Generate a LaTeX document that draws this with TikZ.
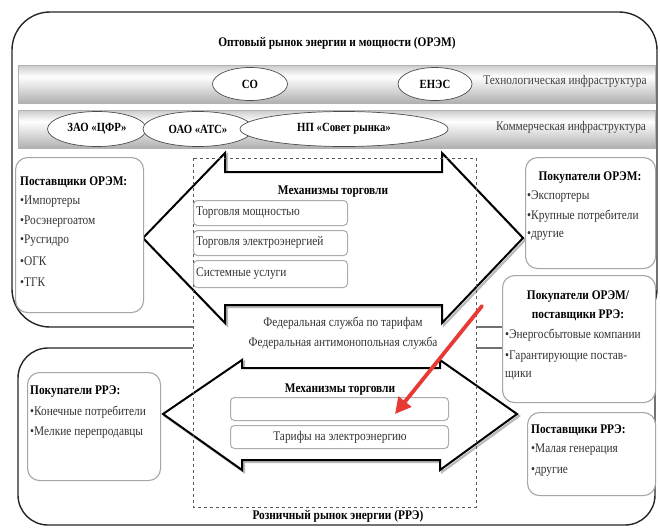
\documentclass[tikz,border=0pt]{standalone}
\usepackage{fontspec}
\setmainfont[FakeStretch=0.86]{Liberation Serif}
\usetikzlibrary{arrows.meta,shapes.geometric}
\pgfdeclareverticalshading{cyl}{100bp}{color(0bp)=(black!60); color(15bp)=(black!40); color(35bp)=(black!22); color(60bp)=(white); color(80bp)=(black!28); color(100bp)=(black!60)}
\definecolor{redarr}{RGB}{232,58,52}
\begin{document}
\begin{tikzpicture}[x=1pt,y=-1pt,
  frame/.style={draw=black!85, line width=1.4pt},
  band/.style={draw=gray!60, line width=0.6pt, shading=cyl},
  ell/.style={ellipse, draw=black!70, fill=white, line width=0.7pt, inner sep=0pt, font=\bfseries\fontsize{12.5}{14}\selectfont},
  bandtxt/.style={font=\fontsize{13.2}{15}\selectfont, text=black!75},
  sidebox/.style={draw=gray!70, line width=1.1pt, fill=white, rounded corners=12pt, anchor=north west, inner sep=0pt},
  mechbox/.style={draw=gray!65, line width=1pt, fill=white, rounded corners=4pt, anchor=north west, inner sep=0pt},
  ttl/.style={font=\bfseries\fontsize{13.2}{15}\selectfont, inner sep=0pt},
  itm/.style={font=\fontsize{13.2}{15}\selectfont, text=black!80, inner sep=0pt, anchor=west},
  bigarrow/.style={draw=black, line width=2pt, fill=white, line join=miter},
  arrshadow/.style={draw=gray!55, line width=2.2pt, line join=miter},
  dashbox/.style={draw=gray!70!black, dashed, line width=0.8pt},
  redline/.style={draw=redarr, line width=3.8pt, line cap=round, -{Triangle[length=16pt,width=16pt]}}
]
\useasboundingbox (0,0) rectangle (660,528);
\fill[white] (0,0) rectangle (660,528);

% outer frames
\draw[frame, rounded corners=38pt] (12,12) rectangle (657,327);
\draw[frame, rounded corners=30pt] (18,348) rectangle (655,525);

\node[ttl] (orem) at (337,43) {Оптовый рынок энергии и мощности (ОРЭМ)};

% bands
\path[band] (18,65) rectangle (655,103);
\path[band] (18,110) rectangle (655,148);
\node[ell, minimum width=75pt, minimum height=33pt] (so) at (250,84) {СО};
\node[ell, minimum width=74pt, minimum height=33pt] (enes) at (435,84) {ЕНЭС};
\node[bandtxt] (tech) at (565,81) {Технологическая инфраструктура};
\node[ell, minimum width=99pt, minimum height=35pt] (cfr) at (97,129) {ЗАО «ЦФР»};
\node[ell, minimum width=110pt, minimum height=35pt] (ats) at (198,129) {ОАО «АТС»};
\node[ell, minimum width=208pt, minimum height=35pt] (np) at (344,129) {НП «Совет рынка»};
\node[bandtxt] (comm) at (571,127) {Коммерческая инфраструктура};

% central dashed area (white background)
\fill[white] (193,158) rectangle (476,507);

% upper double arrow
\draw[arrshadow, shift={(2,2)}] (143,238) -- (225,153) -- (225,172) -- (442,172) -- (442,153) -- (523,238) -- (442,323) -- (442,305) -- (225,305) -- (225,323) -- cycle;
\draw[bigarrow] (143,238) -- (225,153) -- (225,172) -- (442,172) -- (442,153) -- (523,238) -- (442,323) -- (442,305) -- (225,305) -- (225,323) -- cycle;

% lower double arrow
\draw[arrshadow, shift={(2,2)}] (163,414) -- (242,360) -- (242,368) -- (440,368) -- (440,360) -- (517,414) -- (440,470) -- (440,460) -- (242,460) -- (242,470) -- cycle;
\draw[bigarrow] (163,414) -- (242,360) -- (242,368) -- (440,368) -- (440,360) -- (517,414) -- (440,470) -- (440,460) -- (242,460) -- (242,470) -- cycle;

% dashed outline
\draw[dashbox] (193,158) rectangle (476,507);

% upper mechanisms
\node[ttl] (mech1) at (333,192) {Механизмы торговли};
\node[mechbox, minimum width=154pt, minimum height=25pt] (m1) at (193,200) {};
\node[mechbox, minimum width=154pt, minimum height=25pt] (m2) at (193,230) {};
\node[mechbox, minimum width=154pt, minimum height=27pt] (m3) at (193,260) {};
\node[itm] (m1t) at (196,212.5) {Торговля мощностью};
\node[itm] (m2t) at (196,242.5) {Торговля электроэнергией};
\node[itm] (m3t) at (196,273.5) {Системные услуги};

\node[itm, anchor=center] (fst) at (343,323) {Федеральная служба по тарифам};
\node[itm, anchor=center] (fas) at (343,343) {Федеральная антимонопольная служба};

% lower mechanisms
\node[ttl] (mech2) at (340,390) {Механизмы торговли};
\node[mechbox, minimum width=218pt, minimum height=23pt] (r1) at (230,397) {};
\node[mechbox, minimum width=218pt, minimum height=23pt] (r2) at (230,425) {};
\node[itm, anchor=center] (r2t) at (340,437) {Тарифы на электроэнергию};

\node[ttl] (rre) at (338,516) {Розничный рынок энергии (РРЭ)};

% side boxes
\node[sidebox, minimum width=128pt, minimum height=155pt] (sup) at (15,157) {};
\node[ttl, anchor=west] (supt) at (20,182) {Поставщики ОРЭМ:};
\node[itm] (s1) at (20,202) {•Импортеры};
\node[itm] (s2) at (20,222) {•Росэнергоатом};
\node[itm] (s3) at (20,241) {•Русгидро};
\node[itm] (s4) at (20,261) {•ОГК};
\node[itm] (s5) at (20,282) {•ТГК};

\node[sidebox, minimum width=130pt, minimum height=111pt] (buy) at (525,157) {};
\node[ttl] (buyt) at (590,178) {Покупатели ОРЭМ:};
\node[itm] (b1) at (527,197) {•Экспортеры};
\node[itm] (b2) at (527,216) {•Крупные потребители};
\node[itm] (b3) at (527,236) {•другие};

\node[sidebox, minimum width=153pt, minimum height=127pt] (mid) at (502,275) {};
\node[ttl] (midt1) at (578,297) {Покупатели ОРЭМ/};
\node[ttl] (midt2) at (578,315) {поставщики РРЭ:};
\node[itm] (c1) at (505,335) {•Энергосбытовые компании};
\node[itm] (c2) at (505,357) {•Гарантирующие постав-};
\node[itm] (c3) at (505,376) {щики};

\node[sidebox, minimum width=133pt, minimum height=108pt] (rbuy) at (27,372) {};
\node[ttl, anchor=west] (rbuyt) at (30,392) {Покупатели РРЭ:};
\node[itm] (d1) at (30,412) {•Конечные потребители};
\node[itm] (d2) at (30,433) {•Мелкие перепродавцы};

\node[sidebox, minimum width=128pt, minimum height=83pt] (rsup) at (527,412) {};
\node[ttl, anchor=west] (rsupt) at (531,430) {Поставщики РРЭ:};
\node[itm] (e1) at (531,450) {•Малая генерация};
\node[itm] (e2) at (531,472) {•другие};

% red pointer
\coordinate (rstart) at (482,306);
\coordinate (rend) at (395,414);
\draw[redline] (rstart) -- (rend);
\end{tikzpicture}
\end{document}
